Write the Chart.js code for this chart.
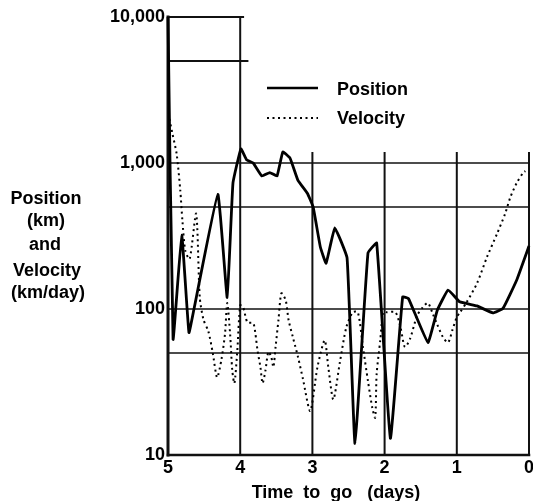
<!DOCTYPE html>
<html lang="en">
<head>
    <meta charset="UTF-8">
    <title>Position and Velocity</title>
    <script src="https://cdn.jsdelivr.net/npm/chart.js"></script>
    <style>
        body {
            margin: 0;
            background: #fff;
        }
        #wrap {
            width: 533px;
            height: 501px;
        }
    </style>
</head>
<body>

<div id="wrap"><canvas id="pvChart"></canvas></div>

<script>
// values (time to go in days, value on log scale)
const posDays = [5.0, 4.93, 4.81, 4.71, 4.64, 4.31, 4.18, 4.10, 3.99, 3.91, 3.82, 3.70, 3.59, 3.49, 3.41, 3.31,
    3.20, 3.07, 2.99, 2.89, 2.81, 2.69, 2.52, 2.41, 2.23, 2.11, 1.92, 1.75, 1.67, 1.40, 1.27, 1.12, 0.96,
    0.72, 0.50, 0.36, 0.17, 0.0];
const posKm = [10000, 62, 320, 69, 100, 610, 120, 730, 1250, 1050, 1000, 815, 860, 815, 1190, 1080,
    760, 620, 500, 266, 206, 359, 224, 12, 242, 283, 13, 121, 118, 59, 98, 135, 112,
    105, 94, 101, 158, 270];

const velDays = [4.98, 4.94, 4.88, 4.83, 4.80, 4.76, 4.70, 4.61, 4.56, 4.51, 4.44, 4.38, 4.32, 4.26, 4.21, 4.18,
    4.14, 4.11, 4.08, 4.04, 4.0, 3.96, 3.90, 3.82, 3.79, 3.76, 3.72, 3.69, 3.65, 3.61, 3.57, 3.54, 3.51,
    3.47, 3.43, 3.37, 3.33, 3.27, 3.20, 3.13, 3.03, 2.93, 2.83, 2.78, 2.71, 2.62, 2.53, 2.44, 2.37, 2.30,
    2.23, 2.17, 2.13, 2.11, 2.06, 2.02, 1.97, 1.85, 1.78, 1.72, 1.65, 1.55, 1.47, 1.40, 1.33, 1.27, 1.19,
    1.12, 1.06, 1.0, 0.96, 0.86, 0.72, 0.58, 0.44, 0.33, 0.26, 0.17, 0.08, 0.05];
const velKmDay = [2000, 1600, 1150, 650, 400, 250, 220, 450, 120, 85, 70, 50, 34, 45, 68, 110,
    68, 38, 31, 52, 106, 103, 81, 80, 68, 52, 40, 31, 38, 51, 47, 40, 55,
    84, 128, 115, 84, 64, 47, 33, 20, 40, 61, 40, 24, 43, 75, 95, 95, 55,
    32, 21, 18, 36, 61, 95, 95, 95, 75, 55, 62, 90, 103, 110, 92, 78, 64,
    59, 72, 88, 94, 112, 150, 228, 330, 450, 580, 730, 860, 880];

const xTicks = [0, 1, 2, 3, 4, 5];
const yTicks = [10, 100, 1000, 10000];

const boldFont = "'Liberation Sans', Arial, sans-serif";

function toPoints(xs, ys) {
    return xs.map((x, i) => ({ x: x, y: ys[i] }));
}

// grid lines are partial in the original, so they are drawn here
const gridPlugin = {
    id: 'partialGrid',
    beforeDatasetsDraw(chart) {
        const ctx = chart.ctx;
        const xs = chart.scales.x;
        const ys = chart.scales.y;
        ctx.save();
        ctx.strokeStyle = '#111';
        ctx.lineCap = 'square';

        function hLine(v, t0, t1, w) {
            ctx.lineWidth = w;
            ctx.beginPath();
            ctx.moveTo(xs.getPixelForValue(t0), ys.getPixelForValue(v));
            ctx.lineTo(xs.getPixelForValue(t1), ys.getPixelForValue(v));
            ctx.stroke();
        }
        function vLine(t, v0, v1, w) {
            ctx.lineWidth = w;
            ctx.beginPath();
            ctx.moveTo(xs.getPixelForValue(t), ys.getPixelForValue(v0));
            ctx.lineTo(xs.getPixelForValue(t), ys.getPixelForValue(v1));
            ctx.stroke();
        }

        hLine(10000, 5, 3.96, 2);
        hLine(5000, 5, 3.9, 2);
        hLine(1000, 5, 0, 1.6);
        hLine(500, 5, 0, 1.6);
        hLine(100, 5, 0, 1.6);
        hLine(50, 5, 0, 1.6);
        hLine(10, 5, 0, 2.5);

        vLine(5, 10, 10000, 3);
        vLine(4, 10, 10000, 2);
        [3, 2, 1, 0].forEach(t => vLine(t, 10, 1170, 2));
        ctx.restore();
    },
    afterDraw(chart) {
        const ctx = chart.ctx;
        ctx.save();
        ctx.fillStyle = '#000';
        ctx.font = 'bold 18px ' + boldFont;
        ctx.textBaseline = 'middle';

        // legend
        ctx.strokeStyle = '#000';
        ctx.lineWidth = 2.6;
        ctx.beginPath();
        ctx.moveTo(267, 88);
        ctx.lineTo(318, 88);
        ctx.stroke();
        ctx.lineWidth = 2;
        ctx.setLineDash([2, 3.5]);
        ctx.beginPath();
        ctx.moveTo(267, 118);
        ctx.lineTo(318, 118);
        ctx.stroke();
        ctx.setLineDash([]);
        ctx.textAlign = 'left';
        ctx.fillText('Position', 337, 90);
        ctx.fillText('Velocity', 337, 119);

        // y axis title, stacked
        ctx.textAlign = 'center';
        ctx.fillText('Position', 46, 199);
        ctx.fillText('(km)', 46, 221);
        ctx.fillText('and', 45, 245);
        ctx.fillText('Velocity', 47, 271);
        ctx.fillText('(km/day)', 48, 293);

        // x axis title
        ctx.fillText('Time  to  go   (days)', 336, 493);
        ctx.restore();
    }
};

new Chart(document.getElementById('pvChart'), {
    type: 'line',
    data: {
        datasets: [
            {
                label: 'Position',
                data: toPoints(posDays, posKm),
                borderColor: '#000',
                borderWidth: 2.8,
                pointRadius: 0,
                tension: 0.1,
                clip: 6
            },
            {
                label: 'Velocity',
                data: toPoints(velDays, velKmDay),
                borderColor: '#000',
                borderWidth: 2,
                borderDash: [2, 3.5],
                pointRadius: 0,
                tension: 0.25,
                clip: 6
            }
        ]
    },
    plugins: [gridPlugin],
    options: {
        responsive: true,
        maintainAspectRatio: false,
        animation: false,
        layout: { padding: { top: 17, right: 4, left: 0, bottom: 0 } },
        plugins: {
            legend: { display: false },
            tooltip: { enabled: false }
        },
        scales: {
            x: {
                type: 'linear',
                reverse: true,
                min: 0,
                max: 5,
                grid: { display: false, drawTicks: false },
                border: { display: false },
                afterBuildTicks: s => { s.ticks = xTicks.map(v => ({ value: v })); },
                afterFit: s => { s.height = 46; },
                ticks: {
                    autoSkip: false,
                    padding: 2,
                    color: '#000',
                    font: { family: boldFont, size: 18, weight: 'bold' }
                }
            },
            y: {
                type: 'logarithmic',
                min: 10,
                max: 10000,
                grid: { display: false, drawTicks: false },
                border: { display: false },
                afterBuildTicks: s => { s.ticks = yTicks.map(v => ({ value: v })); },
                afterFit: s => { s.width = 168; },
                ticks: {
                    padding: 3,
                    color: '#000',
                    font: { family: boldFont, size: 18, weight: 'bold' },
                    callback: v => v.toLocaleString('en-US')
                }
            }
        }
    }
});
</script>

</body>
</html>
